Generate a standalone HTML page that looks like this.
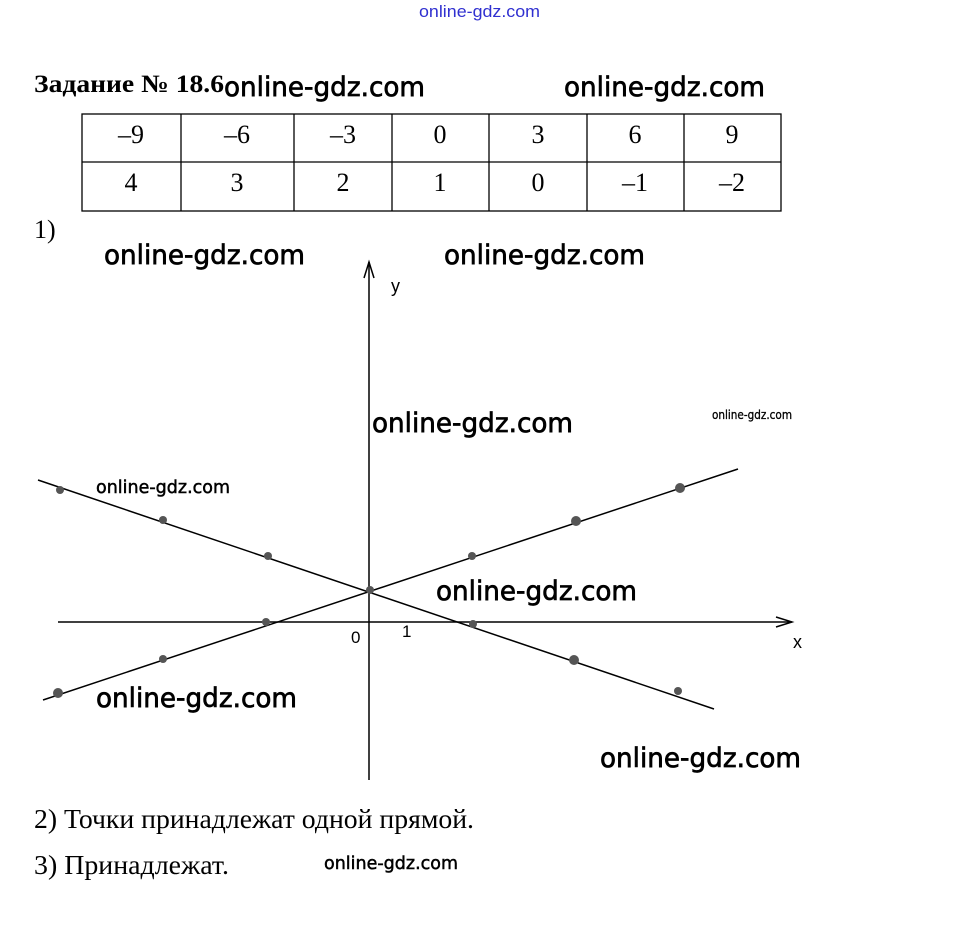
<!DOCTYPE html>
<html><head><meta charset="utf-8"><style>
body{margin:0;background:#fff;width:959px;height:925px;overflow:hidden}
svg{display:block}
.w{font-family:"DejaVu Sans","Liberation Sans",sans-serif;font-size:27px;fill:#000;stroke:#000;stroke-width:0.7}
.t{font-family:"Liberation Serif",serif;font-size:26px;fill:#000}
</style></head><body>
<svg width="959" height="925" viewBox="0 0 959 925">
<text x="419" y="17" font-family="Liberation Sans,sans-serif" font-size="17" fill="#3030d0" textLength="121" lengthAdjust="spacingAndGlyphs">online-gdz.com</text>
<text x="34" y="92" font-family="Liberation Serif,serif" font-size="25" font-weight="bold" textLength="190" lengthAdjust="spacingAndGlyphs">Задание № 18.6</text>
<text x="224" y="96" class="w" textLength="201" lengthAdjust="spacingAndGlyphs">online-gdz.com</text>
<text x="564" y="96" class="w" textLength="201" lengthAdjust="spacingAndGlyphs">online-gdz.com</text>
<g stroke="#000" stroke-width="1.3" fill="none">
<rect x="82" y="114" width="699" height="97"/>
<line x1="82" y1="162" x2="781" y2="162"/>
<line x1="181" y1="114" x2="181" y2="211"/><line x1="294" y1="114" x2="294" y2="211"/>
<line x1="392" y1="114" x2="392" y2="211"/><line x1="489" y1="114" x2="489" y2="211"/>
<line x1="587" y1="114" x2="587" y2="211"/><line x1="684" y1="114" x2="684" y2="211"/>
</g>
<g class="t" text-anchor="middle">
<text x="131" y="143">–9</text><text x="237" y="143">–6</text><text x="343" y="143">–3</text><text x="440" y="143">0</text><text x="538" y="143">3</text><text x="635" y="143">6</text><text x="732" y="143">9</text>
<text x="131" y="191">4</text><text x="237" y="191">3</text><text x="343" y="191">2</text><text x="440" y="191">1</text><text x="538" y="191">0</text><text x="635" y="191">–1</text><text x="732" y="191">–2</text>
</g>
<text x="34" y="238" class="t">1)</text>
<text x="104" y="264" class="w" textLength="201" lengthAdjust="spacingAndGlyphs">online-gdz.com</text>
<text x="444" y="264" class="w" textLength="201" lengthAdjust="spacingAndGlyphs">online-gdz.com</text>
<g stroke="#000" stroke-width="1.5" fill="none">
<line x1="369" y1="262" x2="369" y2="780"/>
<line x1="58" y1="622" x2="792" y2="622"/>
<line x1="38" y1="480" x2="714" y2="709"/>
<line x1="43" y1="700" x2="738" y2="469"/>
<path d="M364 278 L369 262 L374 278"/>
<path d="M776 617 L792 622 L776 627"/>
</g>
<g fill="#555">
<circle cx="60" cy="490" r="4"/><circle cx="163" cy="520" r="4"/><circle cx="268" cy="556" r="4"/><circle cx="370" cy="590" r="4"/><circle cx="473" cy="624" r="4"/><circle cx="574" cy="660" r="5"/><circle cx="678" cy="691" r="4"/>
<circle cx="58" cy="693" r="5"/><circle cx="163" cy="659" r="4"/><circle cx="266" cy="622" r="4"/><circle cx="472" cy="556" r="4"/><circle cx="576" cy="521" r="5"/><circle cx="680" cy="488" r="5"/>
</g>
<text x="391" y="292" font-family="Liberation Sans,sans-serif" font-size="18">y</text>
<text x="793" y="648" font-family="Liberation Sans,sans-serif" font-size="18">x</text>
<text x="351" y="643" font-family="Liberation Sans,sans-serif" font-size="17">0</text>
<text x="402" y="637" font-family="Liberation Sans,sans-serif" font-size="17">1</text>
<text x="372" y="432" class="w" textLength="201" lengthAdjust="spacingAndGlyphs">online-gdz.com</text>
<text x="712" y="419" font-family="DejaVu Sans,sans-serif" font-size="12" stroke="#000" stroke-width="0.3" textLength="80" lengthAdjust="spacingAndGlyphs">online-gdz.com</text>
<text x="96" y="493" font-family="DejaVu Sans,sans-serif" font-size="18" stroke="#000" stroke-width="0.5" textLength="134" lengthAdjust="spacingAndGlyphs">online-gdz.com</text>
<text x="436" y="600" class="w" textLength="201" lengthAdjust="spacingAndGlyphs">online-gdz.com</text>
<text x="96" y="707" class="w" textLength="201" lengthAdjust="spacingAndGlyphs">online-gdz.com</text>
<text x="600" y="767" class="w" textLength="201" lengthAdjust="spacingAndGlyphs">online-gdz.com</text>
<text x="34" y="828" class="t" style="font-size:27px" textLength="440" lengthAdjust="spacingAndGlyphs">2) Точки принадлежат одной прямой.</text>
<text x="34" y="874" class="t" style="font-size:27px" textLength="195" lengthAdjust="spacingAndGlyphs">3) Принадлежат.</text>
<text x="324" y="869" font-family="DejaVu Sans,sans-serif" font-size="18" stroke="#000" stroke-width="0.5" textLength="134" lengthAdjust="spacingAndGlyphs">online-gdz.com</text>
</svg>
</body></html>
